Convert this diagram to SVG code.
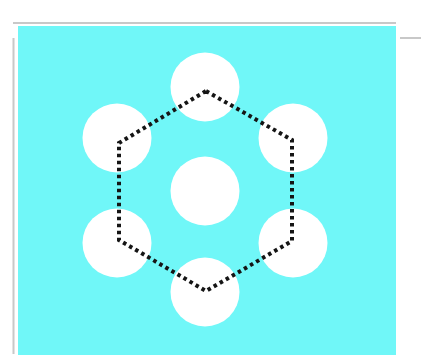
<svg xmlns="http://www.w3.org/2000/svg" width="421" height="361" viewBox="0 0 421 361">
<style>
.node{fill:#ffffff}
.edge{fill:none;stroke:#151515;stroke-width:4;stroke-dasharray:3.5 3.5}
.frame{fill:none;stroke:#c8c8c8;stroke-width:2}
</style>
<rect width="421" height="361" fill="#ffffff"/>
<g id="frame">
<line class="frame" x1="13" y1="23" x2="396" y2="23"/>
<line class="frame" x1="13.5" y1="38" x2="13.5" y2="354" stroke-width="4"/>
<line class="frame" x1="400" y1="38" x2="421" y2="38" stroke-width="1"/>
</g>
<rect id="background" x="18" y="26" width="378" height="329" fill="#70f7f8"/>
<g id="n-top"><circle class="node" cx="205" cy="87" r="34.5"/></g>
<g id="n-upper-left"><circle class="node" cx="117" cy="138" r="34.5"/></g>
<g id="n-upper-right"><circle class="node" cx="293" cy="138" r="34.5"/></g>
<g id="n-center"><circle class="node" cx="205" cy="191" r="34.5"/></g>
<g id="n-lower-left"><circle class="node" cx="117" cy="243" r="34.5"/></g>
<g id="n-lower-right"><circle class="node" cx="293" cy="243" r="34.5"/></g>
<g id="n-bottom"><circle class="node" cx="205" cy="292" r="34.5"/></g>
<g id="connectors">
<polygon class="edge" points="206,91 292,140 292,241 206,291 119,240 119,143"/>
</g>
</svg>
